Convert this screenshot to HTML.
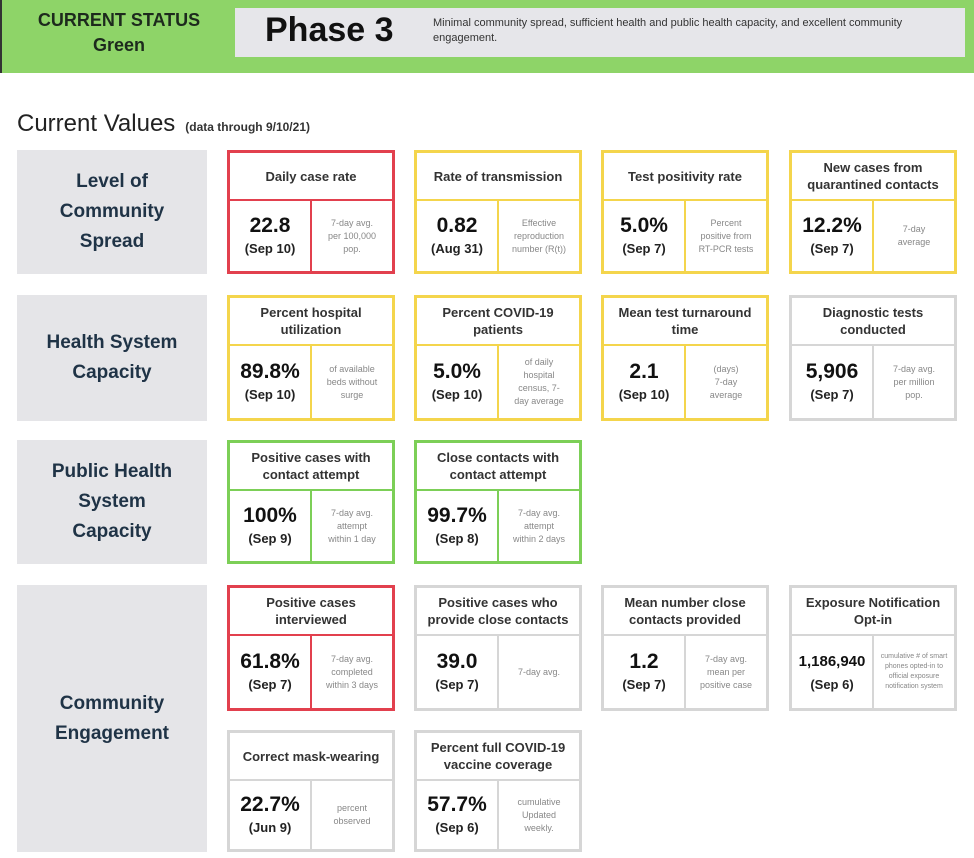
<!DOCTYPE html>
<html><head><meta charset="utf-8"><style>
*{margin:0;padding:0;box-sizing:border-box}
body{width:974px;height:858px;background:#fff;font-family:"Liberation Sans",sans-serif;position:relative;overflow:hidden;color:#222}
.hdr{position:absolute;left:0;top:0;width:974px;height:73px;background:#8ed468;border-left:2px solid #333}
.cs{position:absolute;left:14px;top:8px;width:210px;text-align:center;font-weight:bold;font-size:18px;line-height:25px;color:#1d2a1d}
.ph{position:absolute;left:235px;top:8px;width:730px;height:49px;background:#e6e6ea}
.ph b{position:absolute;left:30px;top:3px;font-size:34px;color:#111}
.ph span{position:absolute;left:198px;top:8px;font-size:11px;line-height:15px;color:#333;width:470px}
.cv{position:absolute;left:17px;top:110px;font-size:24px;color:#222}
.cv small{font-size:12px;margin-left:10px;font-weight:bold;color:#333}
.lab{position:absolute;left:17px;width:190px;background:#e5e5e8;display:flex;align-items:center;justify-content:center;text-align:center;font-weight:bold;font-size:19px;line-height:30px;color:#1f3346}
.t{position:absolute;width:168px;border:3px solid;background:#fff;display:flex;flex-direction:column}
.r{border-color:#e2404e}.y{border-color:#f4d54c}.g{border-color:#7ccf57}.k{border-color:#d6d6d6}
.h{height:48px;border-bottom:2px solid;border-color:inherit;display:flex;align-items:center;justify-content:center;text-align:center;font-size:13px;line-height:17px;font-weight:bold;color:#333;padding:0 4px}
.b{flex:1;display:flex;border-color:inherit}
.v{width:82px;border-right:2px solid;border-color:inherit;display:flex;flex-direction:column;align-items:center;justify-content:center;font-weight:bold}
.v i{font-style:normal;font-size:21px;line-height:26px;color:#111}
.v em{font-style:normal;font-size:13px;line-height:20px;color:#222}
.n{flex:1;display:flex;align-items:center;justify-content:center;text-align:center;font-size:9px;line-height:13px;color:#888;padding:0 2px}
</style></head><body>
<div class="hdr"></div>
<div class="cs">CURRENT STATUS<br>Green</div>
<div class="ph"><b>Phase 3</b><span>Minimal community spread, sufficient health and public health capacity, and excellent community engagement.</span></div>
<div class="cv">Current Values<small>(data through 9/10/21)</small></div>

<div class="lab" style="top:150px;height:124px">Level of<br>Community<br>Spread</div>
<div class="lab" style="top:295px;height:126px">Health System<br>Capacity</div>
<div class="lab" style="top:440px;height:124px">Public Health<br>System<br>Capacity</div>
<div class="lab" style="top:585px;height:267px">Community<br>Engagement</div>

<div class="t r" style="left:227px;top:150px;height:124px"><div class="h">Daily case rate</div><div class="b"><div class="v"><i>22.8</i><em>(Sep 10)</em></div><div class="n">7-day avg.<br>per 100,000<br>pop.</div></div></div>
<div class="t y" style="left:414px;top:150px;height:124px"><div class="h">Rate of transmission</div><div class="b"><div class="v"><i>0.82</i><em>(Aug 31)</em></div><div class="n">Effective<br>reproduction<br>number (R(t))</div></div></div>
<div class="t y" style="left:601px;top:150px;height:124px"><div class="h">Test positivity rate</div><div class="b"><div class="v"><i>5.0%</i><em>(Sep 7)</em></div><div class="n">Percent<br>positive from<br>RT-PCR tests</div></div></div>
<div class="t y" style="left:789px;top:150px;height:124px"><div class="h">New cases from quarantined contacts</div><div class="b"><div class="v"><i>12.2%</i><em>(Sep 7)</em></div><div class="n">7-day<br>average</div></div></div>

<div class="t y" style="left:227px;top:295px;height:126px"><div class="h">Percent hospital utilization</div><div class="b"><div class="v"><i>89.8%</i><em>(Sep 10)</em></div><div class="n">of available<br>beds without<br>surge</div></div></div>
<div class="t y" style="left:414px;top:295px;height:126px"><div class="h">Percent COVID-19 patients</div><div class="b"><div class="v"><i>5.0%</i><em>(Sep 10)</em></div><div class="n">of daily<br>hospital<br>census, 7-<br>day average</div></div></div>
<div class="t y" style="left:601px;top:295px;height:126px"><div class="h">Mean test turnaround time</div><div class="b"><div class="v"><i>2.1</i><em>(Sep 10)</em></div><div class="n">(days)<br>7-day<br>average</div></div></div>
<div class="t k" style="left:789px;top:295px;height:126px"><div class="h">Diagnostic tests conducted</div><div class="b"><div class="v"><i>5,906</i><em>(Sep 7)</em></div><div class="n">7-day avg.<br>per million<br>pop.</div></div></div>

<div class="t g" style="left:227px;top:440px;height:124px"><div class="h">Positive cases with contact attempt</div><div class="b"><div class="v"><i>100%</i><em>(Sep 9)</em></div><div class="n">7-day avg.<br>attempt<br>within 1 day</div></div></div>
<div class="t g" style="left:414px;top:440px;height:124px"><div class="h">Close contacts with contact attempt</div><div class="b"><div class="v"><i>99.7%</i><em>(Sep 8)</em></div><div class="n">7-day avg.<br>attempt<br>within 2 days</div></div></div>

<div class="t r" style="left:227px;top:585px;height:126px"><div class="h">Positive cases interviewed</div><div class="b"><div class="v"><i>61.8%</i><em>(Sep 7)</em></div><div class="n">7-day avg.<br>completed<br>within 3 days</div></div></div>
<div class="t k" style="left:414px;top:585px;height:126px"><div class="h">Positive cases who provide close contacts</div><div class="b"><div class="v"><i>39.0</i><em>(Sep 7)</em></div><div class="n">7-day avg.</div></div></div>
<div class="t k" style="left:601px;top:585px;height:126px"><div class="h">Mean number close contacts provided</div><div class="b"><div class="v"><i>1.2</i><em>(Sep 7)</em></div><div class="n">7-day avg.<br>mean per<br>positive case</div></div></div>
<div class="t k" style="left:789px;top:585px;height:126px"><div class="h">Exposure Notification Opt-in</div><div class="b"><div class="v"><i style="font-size:15px">1,186,940</i><em>(Sep 6)</em></div><div class="n" style="font-size:7px;line-height:10px">cumulative # of smart phones opted-in to official exposure notification system</div></div></div>

<div class="t k" style="left:227px;top:730px;height:122px"><div class="h">Correct mask-wearing</div><div class="b"><div class="v"><i>22.7%</i><em>(Jun 9)</em></div><div class="n">percent<br>observed</div></div></div>
<div class="t k" style="left:414px;top:730px;height:122px"><div class="h">Percent full COVID-19 vaccine coverage</div><div class="b"><div class="v"><i>57.7%</i><em>(Sep 6)</em></div><div class="n">cumulative<br>Updated<br>weekly.</div></div></div>
</body></html>
